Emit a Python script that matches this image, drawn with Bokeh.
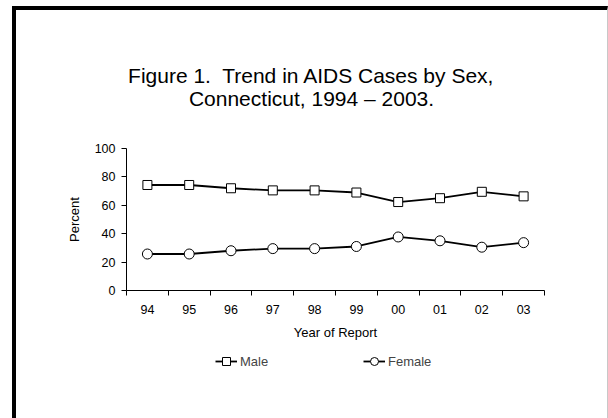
from bokeh.plotting import figure
from bokeh.models import (Range1d, FixedTicker, Legend, LegendItem, Label,
                          LinearAxis, InlineStyleSheet)
from bokeh.embed import file_html
from bokeh.resources import INLINE

# AIDS cases by sex, percent of cases per year of report
years = ["94", "95", "96", "97", "98", "99", "00", "01", "02", "03"]
male = [74.3, 74.3, 72.0, 70.5, 70.5, 69.0, 62.3, 65.0, 69.5, 66.3]
female = [25.7, 25.7, 28.0, 29.5, 29.5, 31.0, 37.7, 35.0, 30.5, 33.7]
y_ticks = [0, 20, 40, 60, 80, 100]

FONT = "Liberation Sans"
W, H = 608, 418
# where the data area (0..10 x 0..100) sits on the canvas, in pixels
A_LEFT, A_RIGHT, A_TOP, A_BOTTOM = 126, 544, 148, 290

n = len(years)
# each year occupies one unit; points sit in the middle of their slot
xs = [i + 0.5 for i in range(n)]

kx = n / (A_RIGHT - A_LEFT)      # data units per pixel
ky = 100 / (A_BOTTOM - A_TOP)

# the frame fills the whole canvas; ranges place the data area inside it
p = figure(width=W, height=H, output_backend="svg", toolbar_location=None,
           x_range=Range1d(-A_LEFT * kx, n + (W - A_RIGHT) * kx),
           y_range=Range1d(-(H - A_BOTTOM) * ky, 100 + A_TOP * ky),
           x_axis_location=None, y_axis_location=None, min_border=0)
p.title_location = None
p.outline_line_color = None
p.grid.visible = False
p.background_fill_color = "white"
p.border_fill_color = "white"


def cx(px):
    return (px - A_LEFT) * kx


def cy(py):
    return (A_BOTTOM - py) * ky


# x axis along y = 0: labels centred in slots, ticks on slot boundaries
xa = LinearAxis(fixed_location=0, bounds=(0, n))
xa.ticker = FixedTicker(ticks=xs, minor_ticks=list(range(n + 1)))
xa.major_label_overrides = {x: yr for x, yr in zip(xs, years)}
xa.major_tick_line_color = None
xa.major_tick_out = 0
xa.major_tick_in = 0
xa.minor_tick_out = 5
xa.minor_tick_in = 0
xa.minor_tick_line_color = "black"
xa.major_label_standoff = 9
xa.axis_label = "Year of Report"
xa.axis_label_standoff = 8

# y axis along x = 0
ya = LinearAxis(fixed_location=0, bounds=(0, 100))
ya.ticker = FixedTicker(ticks=y_ticks, minor_ticks=[])
ya.major_tick_out = 5
ya.major_tick_in = 0
ya.major_label_standoff = 6
ya.axis_label = "Percent"
ya.axis_label_standoff = 10

for ax in (xa, ya):
    ax.axis_line_color = "black"
    ax.major_label_text_font = FONT
    ax.major_label_text_font_size = "12.5px"
    ax.major_label_text_color = "black"
    ax.axis_label_text_font = FONT
    ax.axis_label_text_font_size = "13px"
    ax.axis_label_text_font_style = "normal"
    ax.axis_label_text_color = "black"

p.add_layout(xa, "below")
p.add_layout(ya, "left")

m_line = p.line(xs, male, line_color="black", line_width=1.8)
m_pts = p.scatter(xs, male, marker="square", size=9, fill_color="white",
                  line_color="black", line_width=1)
f_line = p.line(xs, female, line_color="black", line_width=1.8)
f_pts = p.scatter(xs, female, marker="circle", size=10, fill_color="white",
                  line_color="black", line_width=1)

legend = Legend(items=[LegendItem(label="Male", renderers=[m_line, m_pts]),
                       LegendItem(label="Female", renderers=[f_line, f_pts])],
                orientation="horizontal", location=(215, H - 371),
                spacing=93, padding=0, margin=0, border_line_color=None,
                background_fill_alpha=0, glyph_width=22, glyph_height=20,
                label_standoff=3, label_width=30, label_height=20,
                label_text_font=FONT, label_text_font_size="13px")
p.add_layout(legend)

# two-line heading
for text, base in (("Figure 1.\u00a0 Trend in AIDS Cases by Sex,", 75),
                   ("Connecticut, 1994 \u2013 2003.", 98)):
    p.add_layout(Label(x=cx(311), y=cy(base), text=text, text_align="center",
                       text_baseline="alphabetic", text_font=FONT,
                       text_font_size="21px", text_color="black"))

# slide frame: heavy rule along the left and top, faint edge at the right
p.stylesheets = [InlineStyleSheet(css="""
:host { position: relative; }
:host::after {
  content: "";
  position: absolute;
  left: 12px; top: 6px; right: 0; bottom: 0;
  border-left: 4px solid #000;
  border-top: 4px solid #000;
  border-right: 1px solid #c8c8c8;
  pointer-events: none;
}
""")]

open("out.html", "w").write(file_html(p, INLINE))
